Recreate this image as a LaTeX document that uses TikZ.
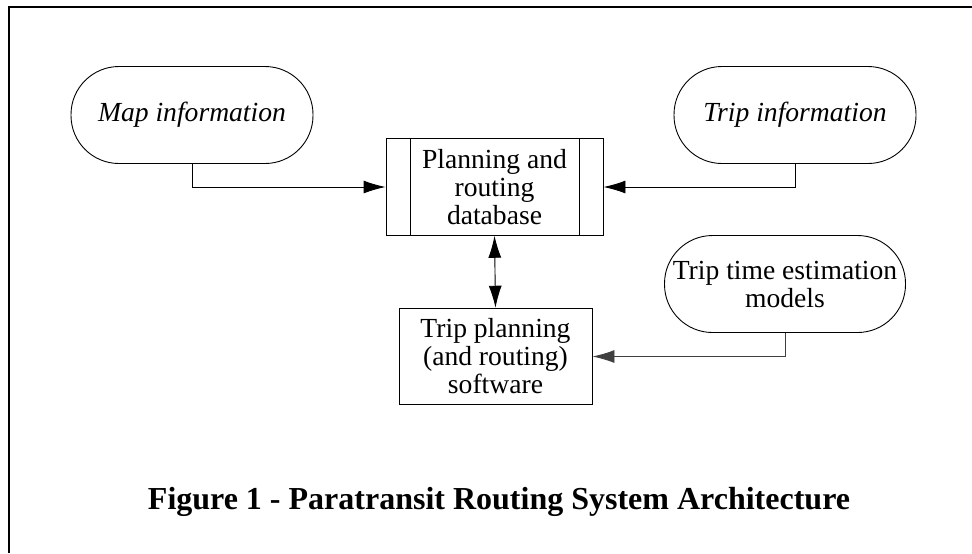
\documentclass[tikz,border=0pt]{standalone}
\usepackage{fontspec}
\setmainfont{Liberation Serif}
\usetikzlibrary{arrows.meta}

\begin{document}
\begin{tikzpicture}[
  x=0.5pt, y=-0.5pt,
  every node/.style={font=\fontsize{13.8}{14}\selectfont, align=center, inner sep=1pt},
  frame/.style={line width=0.8pt},
  source/.style={draw, line width=0.45pt, rounded corners=24pt, minimum width=121pt, minimum height=48.5pt},
  block/.style={draw, line width=0.45pt, minimum height=48.3pt},
  link/.style={line width=0.45pt, -{Latex[length=11pt,width=6.5pt]}},
  dlink/.style={line width=0.45pt, {Latex[length=11pt,width=6.5pt]}-{Latex[length=11pt,width=6.5pt]}}
]
  \useasboundingbox (0,0) rectangle (972,553);

  % frame
  \draw[frame] (972,7) -- (9,7) -- (9,553);

  % inputs
  \node[source] (map) at (192,115) {\itshape Map information};
  \node[source] (trip) at (795,115) {\itshape Trip information};
  \node[source, minimum width=120.5pt, inner sep=0pt] (models) at (785,284) {Trip time estimation\\models};

  % database and software
  \node[block, minimum width=108.5pt] (db) at (494.5,187) {Planning and\\routing\\database};
  \draw[line width=0.45pt] ([xshift=12.5pt]db.north west) -- ([xshift=12.5pt]db.south west);
  \draw[line width=0.45pt] ([xshift=-12pt]db.north east) -- ([xshift=-12pt]db.south east);
  \node[block, minimum width=96.5pt] (soft) at (495.5,356.5) {Trip planning\\(and routing)\\software};

  % connectors
  \draw[link] (map.south) |- (db.west);
  \draw[link] (trip.south) |- (db.east);
  \draw[link, draw=black!75] (models.south) |- (soft.east);
  \draw[dlink] (db.south) -- (soft.north);

  % caption
  \node[anchor=base, font=\fontsize{16}{19}\selectfont\bfseries] (caption) at (499,509)
    {Figure 1 - Paratransit Routing System Architecture};
\end{tikzpicture}
\end{document}
